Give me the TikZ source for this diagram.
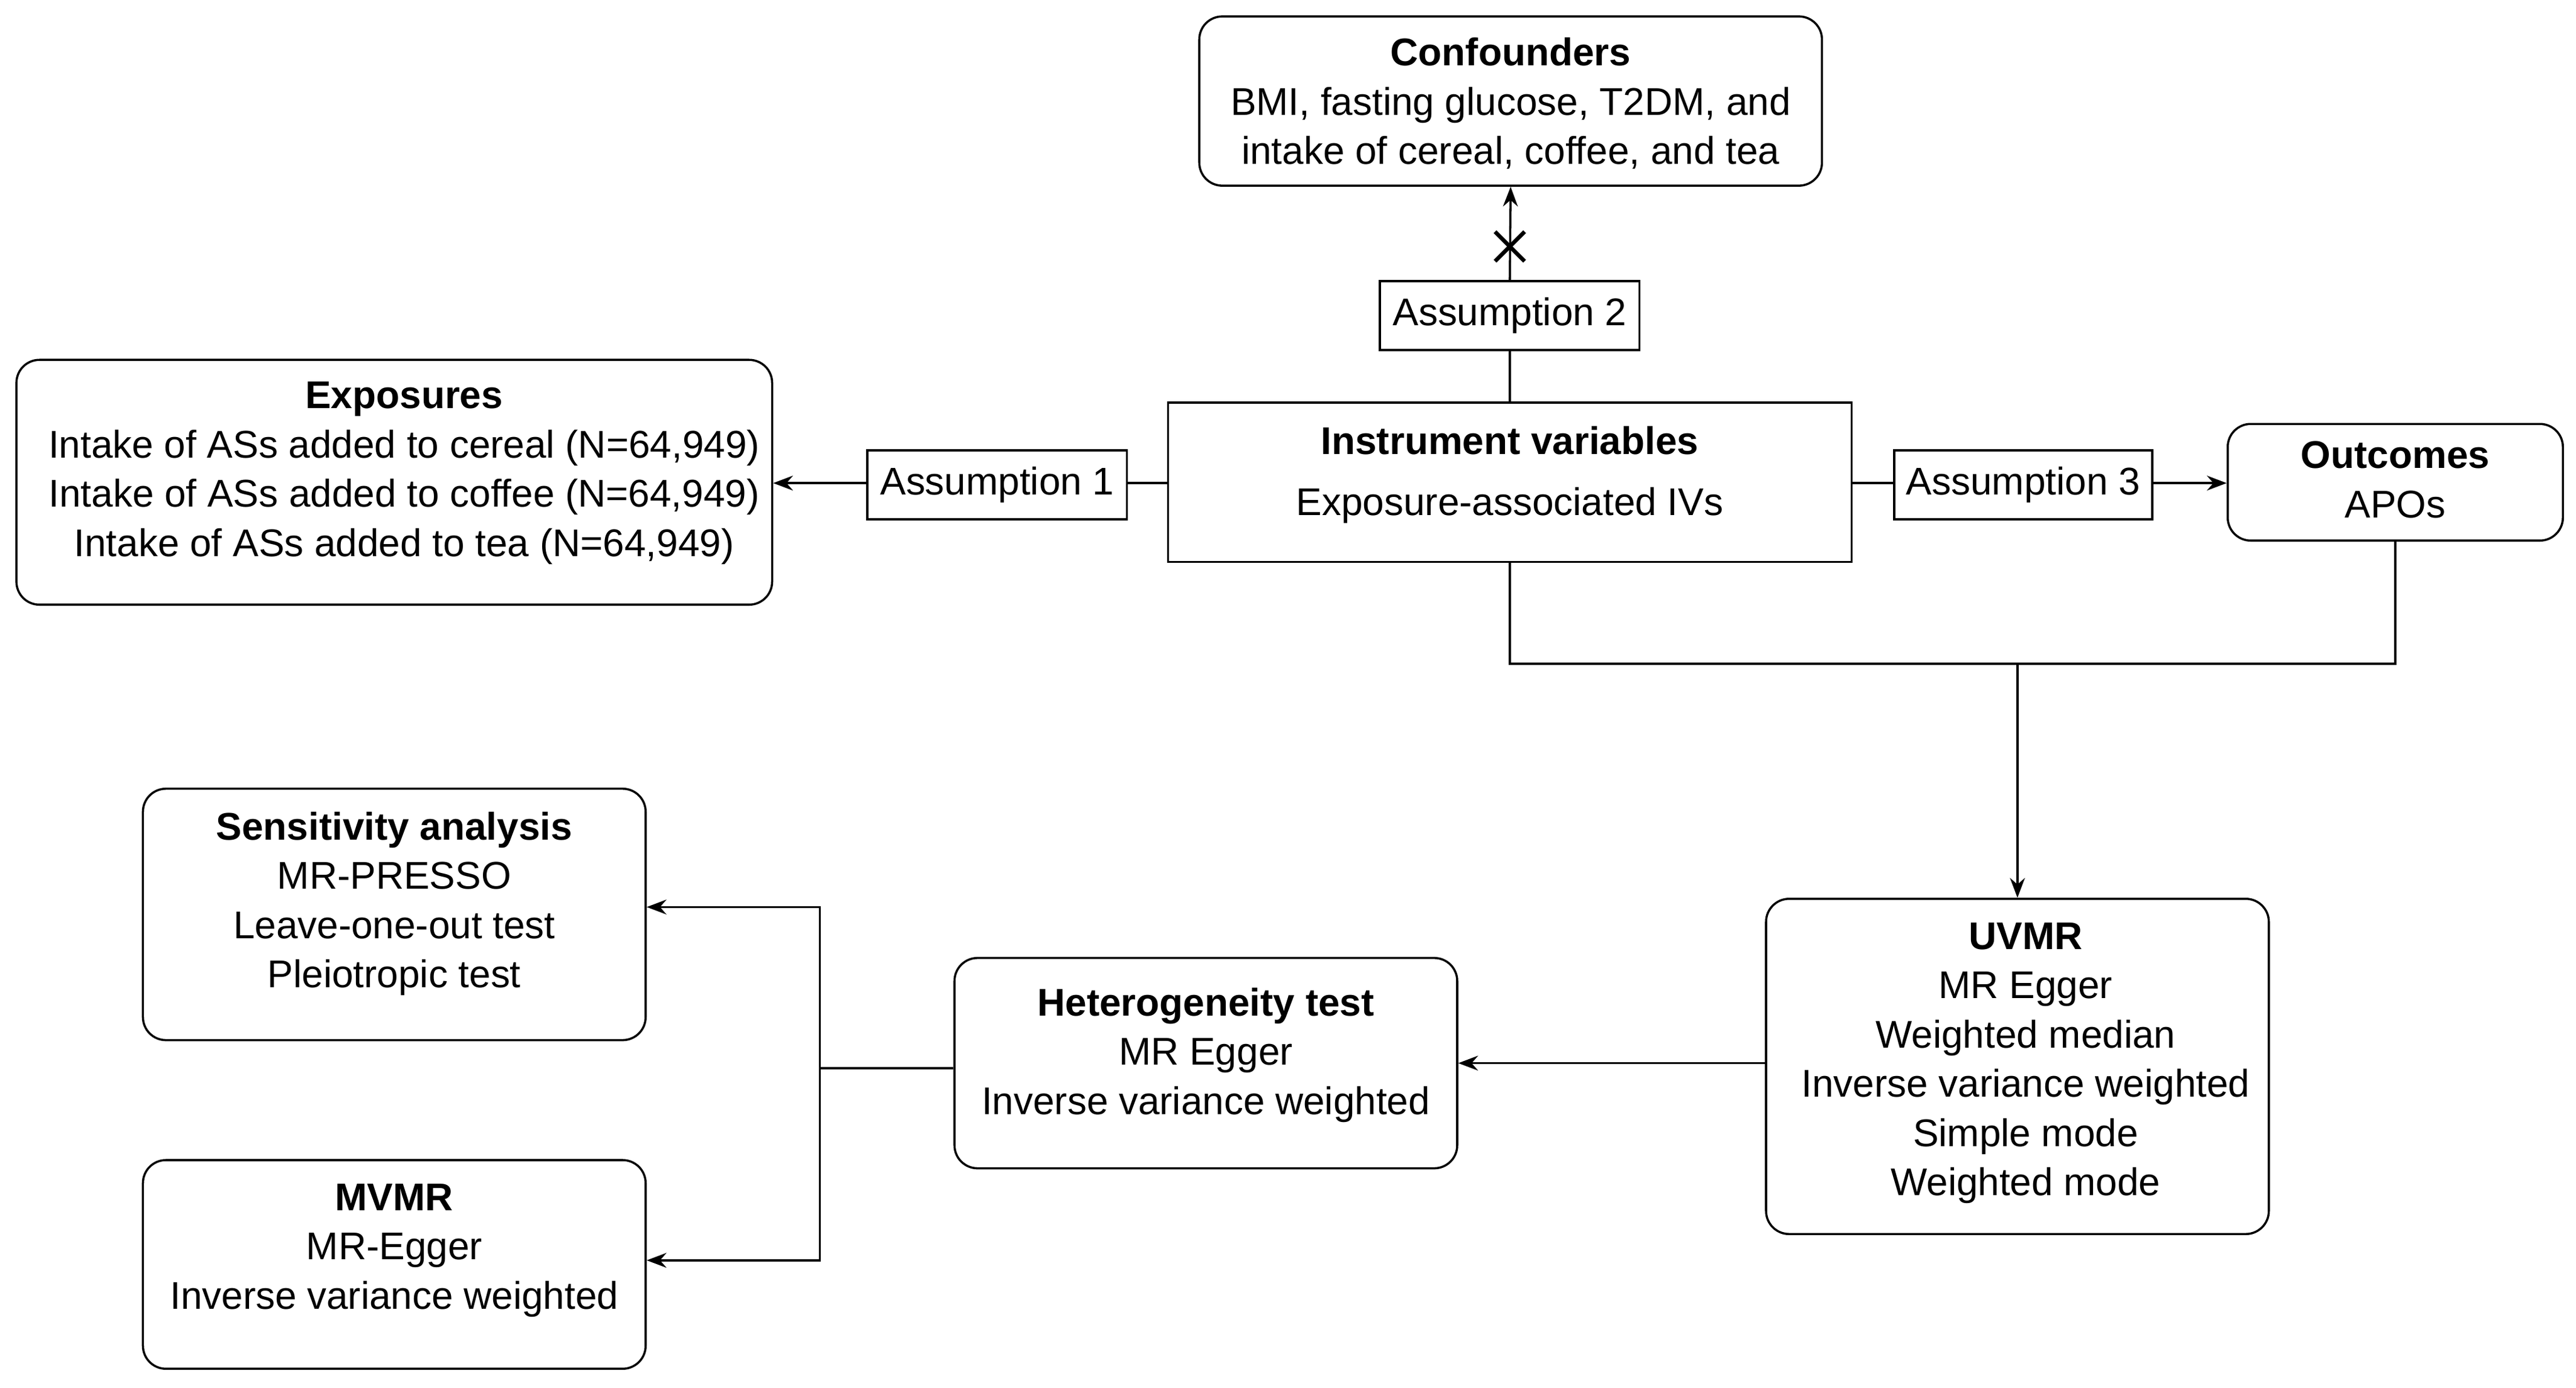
\documentclass[tikz,border=0pt]{standalone}
\usepackage{fontspec}
\setmainfont{Liberation Sans}
\usetikzlibrary{arrows.meta}
\begin{document}
\begin{tikzpicture}[x=1pt,y=-1pt,
 box/.style={draw,line width=1.3pt,inner sep=0pt},
 rbox/.style={box,rounded corners=14pt},
 txt/.style={align=center,font=\fontsize{23.5}{30}\selectfont,inner sep=0pt},
 ln/.style={line width=1.3pt},
 arr/.style={ln,-{Stealth[length=12pt,width=9pt]}}]
\useasboundingbox (0,0) rectangle (1568,844.5);
% boxes
\node[rbox,minimum width=379pt,minimum height=103pt] (conf) at (919.5,61.5) {};
\node[txt] (conft) at (919.5,63) {\textbf{Confounders}\\BMI, fasting glucose, T2DM, and\\intake of cereal, coffee, and tea};
\node[rbox,minimum width=460pt,minimum height=149pt] (exp) at (240,293.5) {};
\node[txt] (expt) at (246,288) {\textbf{Exposures}\\Intake of ASs added to cereal (N=64,949)\\Intake of ASs added to coffee (N=64,949)\\Intake of ASs added to tea (N=64,949)};
\node[box,minimum width=416pt,minimum height=97pt] (iv) at (919,293.5) {};
\node[txt,font=\fontsize{23.5}{37}\selectfont] (ivt) at (919,289) {\textbf{Instrument variables}\\Exposure-associated IVs};
\node[rbox,minimum width=204pt,minimum height=71pt] (out) at (1458,293.5) {};
\node[txt] (outt) at (1458,292) {\textbf{Outcomes}\\APOs};
\node[rbox,minimum width=306pt,minimum height=204pt] (uv) at (1228,649) {};
\node[txt] (uvt) at (1233,647) {\textbf{UVMR}\\MR Egger\\Weighted median\\Inverse variance weighted\\Simple mode\\Weighted mode};
\node[rbox,minimum width=306pt,minimum height=128pt] (het) at (734,647) {};
\node[txt] (hett) at (734,642) {\textbf{Heterogeneity test}\\MR Egger\\Inverse variance weighted};
\node[rbox,minimum width=306pt,minimum height=153pt] (sen) at (240,556.5) {};
\node[txt] (sent) at (240,550) {\textbf{Sensitivity analysis}\\MR-PRESSO\\Leave-one-out test\\Pleiotropic test};
\node[rbox,minimum width=306pt,minimum height=127pt] (mv) at (240,769.5) {};
\node[txt] (mvt) at (240,761) {\textbf{MVMR}\\MR-Egger\\Inverse variance weighted};
% assumption boxes
\node[box,minimum width=158pt,minimum height=42pt] (a1) at (607,295) {};
\node[txt] (a1t) at (607,295) {Assumption 1};
\node[box,minimum width=158pt,minimum height=42pt] (a2) at (919,192) {};
\node[txt] (a2t) at (919,192) {Assumption 2};
\node[box,minimum width=157pt,minimum height=42pt] (a3) at (1231.5,295) {};
\node[txt] (a3t) at (1231.5,295) {Assumption 3};
% connectors
\draw[ln] (iv.north) -- (a2.south);
\draw[arr] (a2.north) -- (conf.south);
\draw[line width=2.4pt] (910,141) -- (928,159) (928,141) -- (910,159);
\draw[ln] (iv.west |- 0,294) -- (a1.east |- 0,294);
\draw[arr] (a1.west |- 0,294) -- (exp.east |- 0,294);
\draw[ln] (iv.east |- 0,294) -- (a3.west |- 0,294);
\draw[arr] (a3.east |- 0,294) -- (out.west |- 0,294);
\coordinate (j) at (1228,404);
\draw[ln] (iv.south) |- (j) -| (out.south);
\draw[arr] (j) -- (uv.north);
\draw[arr] (uv.west |- 0,647) -- (het.east |- 0,647);
\coordinate (k) at (499,650);
\draw[ln] (het.west |- k) -- (k);
\draw[arr] (k) |- (sen.east |- 0,552);
\draw[arr] (k) |- (mv.east |- 0,767);
\end{tikzpicture}
\end{document}
